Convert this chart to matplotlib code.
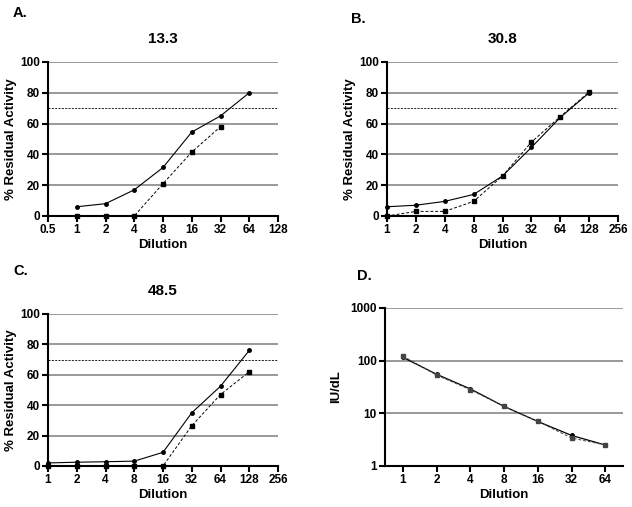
import numpy as np
import matplotlib.pyplot as plt
from matplotlib.ticker import FixedLocator, NullLocator, FixedFormatter

plt.rcParams['font.family'] = ['Liberation Sans', 'DejaVu Sans']
plt.rcParams['font.weight'] = 'bold'

# panel A (13.3)
a_x1 = [1, 2, 4, 8, 16, 32, 64]
a_y1 = [6, 8, 17, 31.5, 54.5, 65, 80]
a_x2 = [1, 2, 4, 8, 16, 32]
a_y2 = [0, 0, 0, 21, 41.5, 58]

# panel B (30.8)
b_x = [1, 2, 4, 8, 16, 32, 64, 128]
b_y1 = [6, 7, 9.5, 14, 26, 44.5, 64, 80]
b_y2 = [0, 3, 3, 9.5, 26, 48, 64.5, 80.5]

# panel C (48.5)
c_x = [1, 2, 4, 8, 16, 32, 64, 128]
c_y1 = [2, 2.5, 2.8, 3.2, 9, 35, 52.5, 76]
c_y2 = [0, 0, 0, 0, 0, 26.5, 47, 62]

# panel D (IU/dL)
d_x = [1, 2, 4, 8, 16, 32, 64]
d_y1 = [115, 55, 29, 13.5, 7, 3.8, 2.5]
d_y2 = [122, 53, 28, 13.5, 7, 3.4, 2.5]

fig = plt.figure(figsize=(6.32, 5.07), dpi=100)
W, H = 632, 507

def add_ax(l, t, r, b):
    return fig.add_axes([l / W, 1 - b / H, (r - l) / W, (b - t) / H])

def style(ax):
    for s in ['top', 'right']:
        ax.spines[s].set_visible(False)
    for s in ['left', 'bottom']:
        ax.spines[s].set_linewidth(1.5)
    ax.tick_params(direction='out', width=1.5, length=4, labelsize=8.5, pad=2)
    for lab in ax.get_xticklabels() + ax.get_yticklabels():
        lab.set_fontweight('bold')

def activity_panel(ax, xs1, ys1, xs2, ys2, xmin, xmax, xticks, title):
    ax.set_xscale('log', base=2)
    ax.set_xlim(xmin, xmax)
    ax.set_ylim(0, 100)
    for g in [20, 40, 60, 80, 100]:
        ax.axhline(g, color='#888888', lw=1.2, zorder=1)
    ax.axhline(70, color='black', lw=0.6, ls=(0, (2.5, 1.5)), zorder=1)
    ax.plot(xs1, ys1, color='black', lw=0.8, marker='o', ms=2.5, zorder=3, clip_on=False)
    ax.plot(xs2, ys2, color='black', lw=0.7, ls=(0, (3, 2)), marker='s', ms=2.8, zorder=3, clip_on=False)
    ax.xaxis.set_major_locator(FixedLocator(xticks))
    ax.xaxis.set_major_formatter(FixedFormatter([('%g' % t) for t in xticks]))
    ax.xaxis.set_minor_locator(NullLocator())
    ax.set_yticks([0, 20, 40, 60, 80, 100])
    ax.set_xlabel('Dilution', fontsize=9.5, fontweight='bold', labelpad=2)
    ax.set_ylabel('% Residual Activity', fontsize=9.5, fontweight='bold', labelpad=2)
    ax.set_title(title, fontsize=11, fontweight='bold', pad=14)
    style(ax)

axA = add_ax(48, 62, 278, 216)
activity_panel(axA, a_x1, a_y1, a_x2, a_y2, 0.5, 128,
               [0.5, 1, 2, 4, 8, 16, 32, 64, 128], '13.3')
axB = add_ax(387, 62, 618, 216)
activity_panel(axB, b_x, b_y1, b_x, b_y2, 1, 256,
               [1, 2, 4, 8, 16, 32, 64, 128, 256], '30.8')
axC = add_ax(48, 314, 278, 466)
activity_panel(axC, c_x, c_y1, c_x, c_y2, 1, 256,
               [1, 2, 4, 8, 16, 32, 64, 128, 256], '48.5')

axD = add_ax(385, 308, 623, 466)
axD.set_xscale('log', base=2)
axD.set_yscale('log')
axD.set_xlim(0.69, 92)
axD.set_ylim(1, 1000)
for g in [10, 100, 1000]:
    axD.axhline(g, color='#888888', lw=1.2, zorder=1)
axD.plot(d_x, d_y1, color='black', lw=0.9, marker='o', ms=2.5, zorder=3)
axD.plot(d_x, d_y2, color='#444444', lw=0.7, ls=(0, (3, 2)), marker='s', ms=2.8, zorder=3)
axD.xaxis.set_major_locator(FixedLocator(d_x))
axD.xaxis.set_major_formatter(FixedFormatter([str(v) for v in d_x]))
axD.xaxis.set_minor_locator(NullLocator())
axD.yaxis.set_major_locator(FixedLocator([1, 10, 100, 1000]))
axD.yaxis.set_major_formatter(FixedFormatter(['1', '10', '100', '1000']))
axD.yaxis.set_minor_locator(NullLocator())
axD.set_xlabel('Dilution', fontsize=9.5, fontweight='bold', labelpad=2)
axD.set_ylabel('IU/dL', fontsize=9.5, fontweight='bold', labelpad=6)
style(axD)

fig.text(13 / W, 1 - 13 / H, 'A.', fontsize=10.5, fontweight='bold', va='center')
fig.text(351 / W, 1 - 19 / H, 'B.', fontsize=10.5, fontweight='bold', va='center')
fig.text(13 / W, 1 - 271 / H, 'C.', fontsize=10.5, fontweight='bold', va='center')
fig.text(357 / W, 1 - 276 / H, 'D.', fontsize=10.5, fontweight='bold', va='center')

fig.savefig('out.png', dpi=100)
